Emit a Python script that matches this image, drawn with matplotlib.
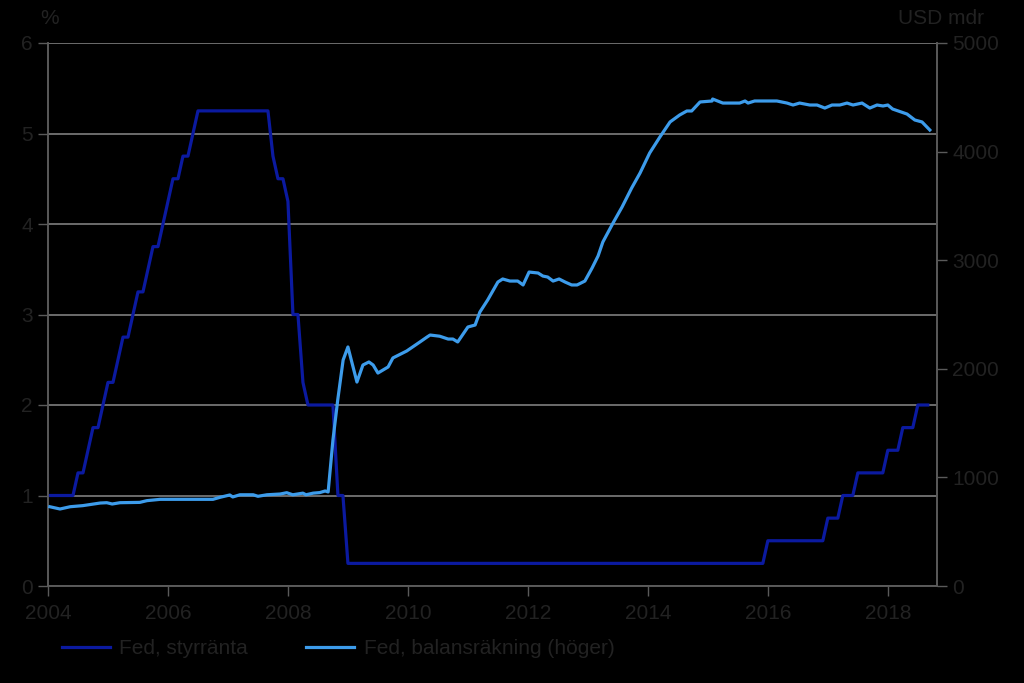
import numpy as np
import matplotlib.pyplot as plt
plt.switch_backend('agg')

plt.rcParams['font.family'] = ['Liberation Sans', 'DejaVu Sans']

# Fed styrränta (övre gräns), månadsslut, dec 2003 - aug 2018
fed_start_year = 2003
fed_start_month = 12
fed_rate = [
    1.0,                                                                  # 2003-12
    1.0, 1.0, 1.0, 1.0, 1.0, 1.25, 1.25, 1.5, 1.75, 1.75, 2.0, 2.25,      # 2004
    2.25, 2.5, 2.75, 2.75, 3.0, 3.25, 3.25, 3.5, 3.75, 3.75, 4.0, 4.25,   # 2005
    4.5, 4.5, 4.75, 4.75, 5.0, 5.25, 5.25, 5.25, 5.25, 5.25, 5.25, 5.25,  # 2006
    5.25, 5.25, 5.25, 5.25, 5.25, 5.25, 5.25, 5.25, 4.75, 4.5, 4.5, 4.25, # 2007
    3.0, 3.0, 2.25, 2.0, 2.0, 2.0, 2.0, 2.0, 2.0, 1.0, 1.0, 0.25,         # 2008
    0.25, 0.25, 0.25, 0.25, 0.25, 0.25, 0.25, 0.25, 0.25, 0.25, 0.25, 0.25,  # 2009
    0.25, 0.25, 0.25, 0.25, 0.25, 0.25, 0.25, 0.25, 0.25, 0.25, 0.25, 0.25,  # 2010
    0.25, 0.25, 0.25, 0.25, 0.25, 0.25, 0.25, 0.25, 0.25, 0.25, 0.25, 0.25,  # 2011
    0.25, 0.25, 0.25, 0.25, 0.25, 0.25, 0.25, 0.25, 0.25, 0.25, 0.25, 0.25,  # 2012
    0.25, 0.25, 0.25, 0.25, 0.25, 0.25, 0.25, 0.25, 0.25, 0.25, 0.25, 0.25,  # 2013
    0.25, 0.25, 0.25, 0.25, 0.25, 0.25, 0.25, 0.25, 0.25, 0.25, 0.25, 0.25,  # 2014
    0.25, 0.25, 0.25, 0.25, 0.25, 0.25, 0.25, 0.25, 0.25, 0.25, 0.25, 0.5,   # 2015
    0.5, 0.5, 0.5, 0.5, 0.5, 0.5, 0.5, 0.5, 0.5, 0.5, 0.5, 0.75,             # 2016
    0.75, 0.75, 1.0, 1.0, 1.0, 1.25, 1.25, 1.25, 1.25, 1.25, 1.25, 1.5,      # 2017
    1.5, 1.5, 1.75, 1.75, 1.75, 2.0, 2.0, 2.0,                               # 2018
]

# Fed balansräkning, USD mdr
bs_year = [2004.03, 2004.2, 2004.37, 2004.58, 2004.87, 2004.98, 2005.07, 2005.2,
           2005.53, 2005.65, 2005.87, 2006.75, 2006.87, 2007.03, 2007.08, 2007.2,
           2007.42, 2007.5, 2007.65, 2007.87, 2007.98, 2008.08, 2008.25, 2008.3,
           2008.42, 2008.53, 2008.62, 2008.67, 2008.75, 2008.83, 2008.92, 2009.0,
           2009.15, 2009.25, 2009.35, 2009.42, 2009.5, 2009.67, 2009.75, 2009.98,
           2010.2, 2010.32, 2010.37, 2010.53, 2010.67, 2010.75, 2010.83, 2011.0,
           2011.12, 2011.2, 2011.33, 2011.5, 2011.58, 2011.7, 2011.83, 2011.92,
           2012.02, 2012.17, 2012.25, 2012.33, 2012.42, 2012.52, 2012.62, 2012.73,
           2012.82, 2012.95, 2013.07, 2013.17, 2013.25, 2013.42, 2013.57, 2013.73,
           2013.87, 2014.03, 2014.2, 2014.37, 2014.53, 2014.65, 2014.73, 2014.87,
           2015.07, 2015.08, 2015.25, 2015.53, 2015.62, 2015.67, 2015.78, 2016.15,
           2016.32, 2016.42, 2016.53, 2016.7, 2016.82, 2016.95, 2017.07, 2017.2,
           2017.32, 2017.42, 2017.57, 2017.7, 2017.82, 2017.92, 2018.0, 2018.08,
           2018.32, 2018.45, 2018.57, 2018.7]
bs_value = [730, 709, 730, 740, 764, 767, 755, 767,
            770, 786, 798, 798, 817, 838, 820, 840,
            840, 826, 840, 847, 859, 840, 855, 840,
            855, 860, 875, 866, 1344, 1713, 2081, 2201,
            1878, 2035, 2063, 2035, 1961, 2017, 2100, 2164,
            2247, 2293, 2311, 2300, 2274, 2274, 2247, 2385,
            2403, 2523, 2634, 2799, 2827, 2808, 2808, 2772,
            2891, 2882, 2854, 2845, 2808, 2827, 2799, 2772,
            2772, 2808, 2928, 3039, 3168, 3343, 3490, 3665,
            3803, 3987, 4134, 4273, 4337, 4374, 4374, 4457,
            4466, 4484, 4447, 4447, 4466, 4447, 4466, 4466,
            4447, 4429, 4447, 4429, 4429, 4401, 4429, 4429,
            4447, 4429, 4447, 4401, 4429, 4420, 4429, 4392,
            4346, 4291, 4273, 4199]

x_ticks = [2004, 2006, 2008, 2010, 2012, 2014, 2016, 2018]

DARK_BLUE = '#0b1aa0'
LIGHT_BLUE = '#3d9ceb'
TEXT = '#222222'
GRID = '#7f7f7f'
SPINE = '#5a5a5a'

# månadsslut som decimalår
fed_year = [fed_start_year + (fed_start_month + i) / 12.0 for i in range(len(fed_rate))]

fig = plt.figure(figsize=(10.24, 6.83), dpi=100, facecolor='black')
ax = fig.add_axes([48 / 1024, 1 - 586 / 683, (937 - 48) / 1024, (586 - 43) / 683])
ax.set_facecolor('black')
ax2 = ax.twinx()

ax.set_xlim(2004.0, 2018.82)
ax.set_ylim(0, 6)
ax2.set_ylim(0, 5000)

ax.set_yticks(range(0, 7))
ax2.set_yticks(range(0, 5001, 1000))
ax.set_xticks(x_ticks)
ax.set_xticklabels([str(t) for t in x_ticks])

ax.yaxis.grid(True, color=GRID, linewidth=1.2)
ax.set_axisbelow(True)

l1, = ax.plot(fed_year, fed_rate, color=DARK_BLUE, linewidth=2.3, label='Fed, styrränta', zorder=3)
l2, = ax2.plot(bs_year, bs_value, color=LIGHT_BLUE, linewidth=2.3, label='Fed, balansräkning (höger)', zorder=3)

for a in (ax, ax2):
    a.spines['top'].set_visible(False)
    for s in ('left', 'right', 'bottom'):
        a.spines[s].set_color(SPINE)
        a.spines[s].set_linewidth(1.2)
    a.tick_params(colors=SPINE, labelcolor=TEXT, labelsize=15, length=7, width=1.0, direction='out')
ax.tick_params(axis='x', pad=6)
ax.tick_params(axis='y', pad=4)
ax2.tick_params(axis='y', pad=4)

fig.text(50 / 1024, 1 - 18 / 683, '%', color=TEXT, fontsize=15, ha='center', va='center')
fig.text(941 / 1024, 1 - 18 / 683, 'USD mdr', color=TEXT, fontsize=15, ha='center', va='center')

fig.legend(handles=[l1, l2], loc='center left', bbox_to_anchor=(62 / 1024, 1 - 649 / 683),
           ncol=2, frameon=False, fontsize=15, labelcolor=TEXT, handlelength=2.3,
           handletextpad=0.45, columnspacing=2.8, borderpad=0, borderaxespad=0)

fig.savefig('out.png', dpi=100, facecolor='black')
